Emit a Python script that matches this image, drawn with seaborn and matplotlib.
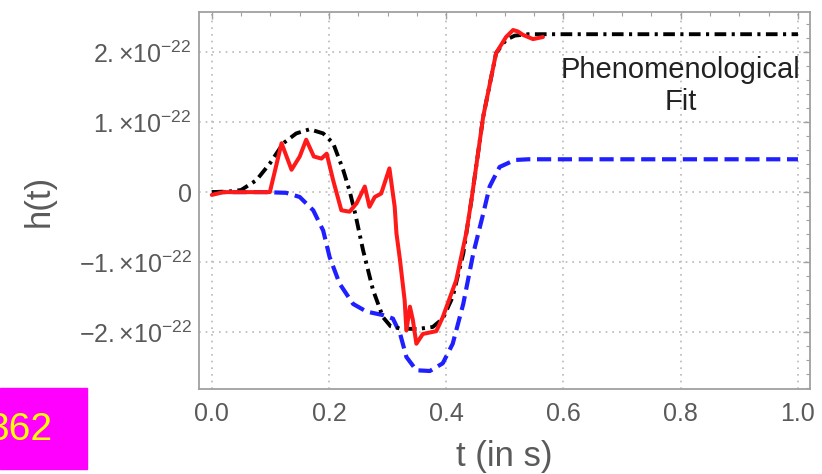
import numpy as np
import pandas as pd
import matplotlib.pyplot as plt
from matplotlib.ticker import MultipleLocator
from matplotlib.patches import Rectangle
import seaborn as sns

sns.set_theme(style="white")
plt.rcParams["font.family"] = ["Liberation Sans", "DejaVu Sans"]
plt.rcParams["mathtext.fontset"] = "custom"
plt.rcParams["mathtext.rm"] = "Liberation Sans"
plt.rcParams["mathtext.it"] = "Liberation Sans:italic"
plt.rcParams["mathtext.bf"] = "Liberation Sans:bold"

#### data (h in units of 1e-22) ####
# red: measured strain
t_data = [0.0, 0.02, 0.06, 0.099, 0.119, 0.136, 0.15, 0.161, 0.174, 0.187, 0.196,
          0.207, 0.221, 0.235, 0.247, 0.261, 0.269, 0.278, 0.289, 0.303, 0.312,
          0.315, 0.321, 0.329, 0.332, 0.338, 0.343, 0.349, 0.360, 0.383, 0.394,
          0.417, 0.434, 0.443, 0.463, 0.485, 0.502, 0.514, 0.522, 0.531, 0.548, 0.565]
h_data = [-0.04, 0.0, 0.0, 0.0, 0.70, 0.32, 0.51, 0.75, 0.51, 0.48, 0.55,
          0.17, -0.26, -0.28, -0.16, 0.08, -0.21, -0.07, -0.02, 0.34, -0.21,
          -0.59, -0.97, -1.55, -1.98, -1.64, -1.83, -2.17, -2.03, -1.99, -1.79,
          -1.26, -0.59, -0.11, 1.08, 1.99, 2.22, 2.32, 2.30, 2.25, 2.19, 2.22]

# black dash-dot: phenomenological fit
t_fit = [0.0, 0.03, 0.05, 0.076, 0.099, 0.122, 0.144, 0.167, 0.19, 0.207, 0.224,
         0.235, 0.245, 0.258, 0.275, 0.292, 0.305, 0.32, 0.35, 0.377, 0.394, 0.411,
         0.429, 0.443, 0.463, 0.485, 0.502, 0.517, 0.54, 0.6, 0.8, 1.0]
h_fit = [0.0, 0.01, 0.03, 0.17, 0.41, 0.70, 0.84, 0.90, 0.84, 0.70, 0.32,
         0.02, -0.32, -0.83, -1.40, -1.79, -1.92, -1.95, -1.96, -1.93, -1.81, -1.50,
         -0.88, -0.11, 1.08, 1.99, 2.18, 2.24, 2.26, 2.26, 2.26, 2.26]

# blue dashed: model
t_model = [0.0, 0.09, 0.127, 0.15, 0.173, 0.19, 0.201, 0.218, 0.241, 0.264, 0.292,
           0.309, 0.321, 0.332, 0.349, 0.372, 0.394, 0.411, 0.429, 0.446, 0.463,
           0.474, 0.491, 0.517, 0.54, 0.6, 0.8, 1.0]
h_model = [0.0, 0.0, -0.01, -0.07, -0.26, -0.55, -0.93, -1.31, -1.60, -1.71, -1.76,
           -1.81, -2.02, -2.36, -2.55, -2.56, -2.45, -2.17, -1.60, -0.88, -0.31,
           0.08, 0.36, 0.46, 0.47, 0.47, 0.47, 0.47]

xticks = [0.0, 0.2, 0.4, 0.6, 0.8, 1.0]
xtick_labels = ["0.0", "0.2", "0.4", "0.6", "0.8", "1.0"]
yticks = [-2, -1, 0, 1, 2]
ytick_labels = [r"$-2.{\times}10^{-22}$", r"$-1.{\times}10^{-22}$", "0",
                r"$1.{\times}10^{-22}$", r"$2.{\times}10^{-22}$"]

frame = "#a0a0a0"
labcol = "#5a5a5a"

fig = plt.figure(figsize=(8.22, 4.74), dpi=100)
ax = fig.add_axes([0.242, 0.179, 0.743, 0.796])

sns.lineplot(x=t_model, y=h_model, ax=ax, color="#1f1fff", lw=3.0,
             estimator=None, sort=False, linestyle=(0, (3.4, 1.6)))
sns.lineplot(x=t_fit, y=h_fit, ax=ax, color="black", lw=2.8,
             estimator=None, sort=False, linestyle=(0, (3.0, 1.4, 0.8, 1.4)))
sns.lineplot(x=t_data, y=h_data, ax=ax, color="#ff1a1a", lw=2.9,
             estimator=None, sort=False)

ax.text(0.80, 1.52, "Phenomenological\nFit", ha="center", va="center",
        fontsize=21, color="#222222", linespacing=1.2)

ax.set_xlim(-0.022, 1.02)
ax.set_ylim(-2.82, 2.58)
ax.set_xticks(xticks)
ax.set_xticklabels(xtick_labels)
ax.set_yticks(yticks)
ax.set_yticklabels(ytick_labels)
ax.xaxis.set_minor_locator(MultipleLocator(0.05))
ax.yaxis.set_minor_locator(MultipleLocator(0.2))
ax.tick_params(which="both", direction="in", top=True, right=True,
               color=frame, labelcolor=labcol)
ax.tick_params(which="major", length=5, width=1)
ax.tick_params(which="minor", length=3, width=0.8)
ax.tick_params(axis="x", labelsize=18, pad=9)
ax.tick_params(axis="y", labelsize=18, pad=5)
ax.grid(True, which="major", color="#b8b8b8", lw=1.2, linestyle=(0, (1, 3)))
for s in ax.spines.values():
    s.set_color(frame)
    s.set_linewidth(1.3)

ax.set_xlabel("t (in s)", fontsize=25, color=labcol, labelpad=10)
ax.set_ylabel("h(t)", fontsize=25, color=labcol)
ax.yaxis.set_label_coords(-0.235, 0.5)

# corner stamp
fig.patches.append(Rectangle((0, 5 / 474), 87 / 822, 81 / 474,
                             transform=fig.transFigure, color="#ff00ff", zorder=5))
fig.text(53 / 822, 1 - 430 / 474, "362", ha="right", va="center",
         fontsize=28, color="#ffff00", zorder=6)

plt.savefig("out.png", dpi=100)
